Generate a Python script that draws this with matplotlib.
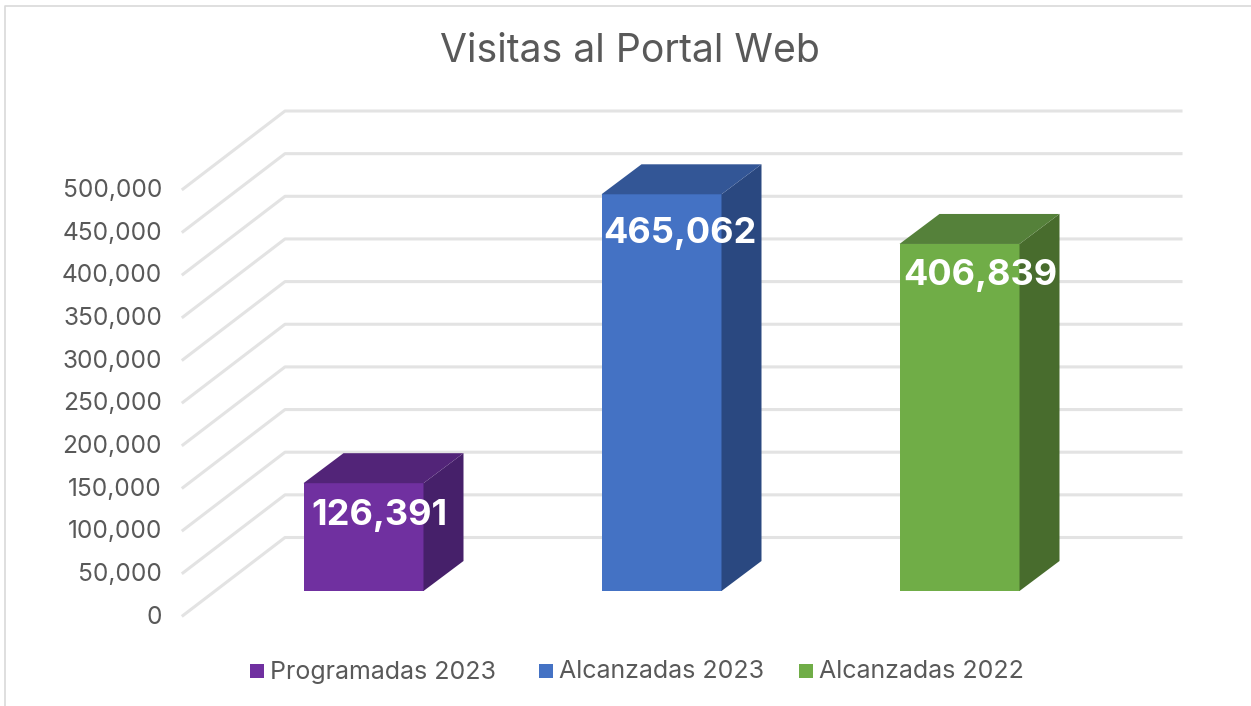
import matplotlib
matplotlib.use('Agg')
import matplotlib.pyplot as plt
from matplotlib.patches import Polygon, Rectangle

plt.rcParams['font.family'] = ['Inter', 'DejaVu Sans']

# datos
categorias = ['Programadas 2023', 'Alcanzadas 2023', 'Alcanzadas 2022']
valores = [126391, 465062, 406839]
etiquetas = ['126,391', '465,062', '406,839']
colores = ['#7030A0', '#4472C4', '#70AD47']
lados = ['#46206A', '#2A4880', '#486C2D']
techos = ['#522478', '#335696', '#55813A']
ticks = [0, 50000, 100000, 150000, 200000, 250000, 300000, 350000, 400000, 450000, 500000]
x_barras = [303.5, 601.5, 899.5]
x_etiquetas = [379, 680, 980.5]
y_etiquetas = [516, 234, 275]

W, H = 1251, 706
fig = plt.figure(figsize=(W / 100, H / 100), dpi=100)
ax = fig.add_axes([0, 0, 1, 1])
ax.set_xlim(0, W)
ax.set_ylim(H, 0)
ax.axis('off')

# escala: y de pantalla para un valor (plano frontal)
y0, y500 = 615.5, 189.0
escala = (y0 - y500) / 500000
def yval(v):
    return y0 - escala * v

dx, dy = 102, 78  # profundidad de la pared
gris = '#E3E3E3'

# borde del grafico
ax.plot([5, 5, W], [706, 6, 6], color='#D9D9D9', lw=1.2)

for t in ticks:
    y = yval(t)
    ax.plot([183, 183 + dx, 1181], [y, y - dy, y - dy], color=gris, lw=2.2, zorder=1)
    ax.text(162, y + 1.5, f'{t:,}', ha='right', va='center', fontsize=17.6, color='#595959')

# barras
base = 591
ancho = 120
pdx, pdy = 40, 30
for x, xe, ye, v, c, l, tc, e in zip(x_barras, x_etiquetas, y_etiquetas, valores, colores, lados, techos, etiquetas):
    top = base - escala * v
    ax.add_patch(Rectangle((x, top), ancho, base - top, fc=c, ec='none', zorder=3))
    ax.add_patch(Polygon([(x + ancho, top), (x + ancho + pdx, top - pdy),
                          (x + ancho + pdx, base - pdy), (x + ancho, base)], fc=l, ec='none', zorder=3))
    ax.add_patch(Polygon([(x, top), (x + pdx, top - pdy), (x + ancho + pdx, top - pdy),
                          (x + ancho, top)], fc=tc, ec='none', zorder=3))
    ax.text(xe, ye, e, ha='center', va='center',
            fontsize=26, fontweight='bold', color='white', zorder=4)

ax.text(629.5, 52, 'Visitas al Portal Web', ha='center', va='center', fontsize=28.2, color='#595959')

# leyenda
for xl, c, n in zip([250, 539, 799], colores, categorias):
    ax.add_patch(Rectangle((xl, 664), 14, 14, fc=c, ec='none'))
    ax.text(xl + 20, 672, n, ha='left', va='center', fontsize=18, color='#595959')

fig.savefig('out.png', dpi=100)
